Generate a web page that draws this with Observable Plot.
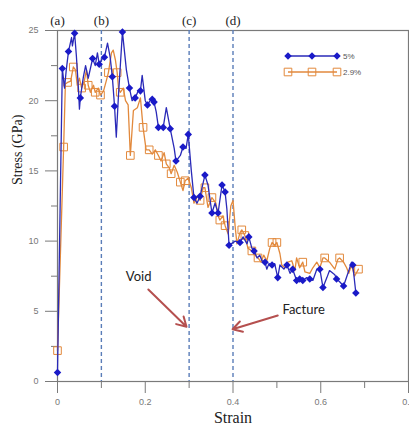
<!DOCTYPE html>
<html>
<head>
<meta charset="utf-8">
<script src="https://cdn.jsdelivr.net/npm/d3@7"></script>
<script src="https://cdn.jsdelivr.net/npm/@observablehq/plot@0.6"></script>
<style>
  html, body { margin: 0; padding: 0; background: #fff; overflow: hidden; }
  #wrap { position: relative; width: 409px; height: 425px; }
  #legend { position: absolute; left: 0; top: 0; pointer-events: none; }
</style>
</head>
<body>
<div id="wrap"></div>
<script>
// ---- Data: 5% series (strain, stress GPa, marker flag) ----
const strain5 = [0.000,0.011,0.016,0.020,0.025,0.032,0.034,0.039,0.043,0.048,0.050,0.052,0.059,0.064,0.070,0.080,0.086,0.091,0.095,0.102,0.107,0.114,0.120,0.125,0.130,0.134,0.139,0.148,0.157,0.164,0.170,0.177,0.184,0.189,0.193,0.200,0.205,0.211,0.216,0.220,0.225,0.230,0.236,0.241,0.248,0.257,0.266,0.270,0.280,0.286,0.293,0.298,0.305,0.311,0.318,0.325,0.336,0.343,0.352,0.359,0.366,0.375,0.382,0.386,0.391,0.405,0.416,0.423,0.432,0.436,0.443,0.448,0.455,0.461,0.466,0.473,0.477,0.482,0.489,0.495,0.502,0.507,0.516,0.523,0.530,0.536,0.545,0.552,0.559,0.568,0.575,0.582,0.591,0.598,0.605,0.614,0.620,0.632,0.636,0.643,0.652,0.664,0.670,0.673,0.680];
const stress5 = [0.64,22.3,20.9,22.2,23.5,24.5,23.9,24.8,23.2,20.7,19.4,20.2,21.7,22.5,21.6,23.0,22.5,23.4,22.6,23.0,23.1,24.1,23.1,21.7,19.6,17.4,20.4,24.9,22.2,20.9,20.0,20.2,20.7,20.7,21.8,20.0,19.7,20.0,20.1,19.9,19.2,18.1,18.1,18.1,19.5,18.0,16.6,15.7,16.1,16.7,16.6,17.6,15.0,13.1,12.7,13.2,14.7,14.0,12.0,12.7,12.0,14.0,13.5,12.3,9.7,10.0,9.9,10.3,9.8,10.3,9.5,9.3,8.8,9.0,8.6,8.5,8.0,8.4,8.3,8.4,7.4,8.3,8.0,8.3,7.7,8.0,7.2,7.3,7.2,7.4,7.3,7.2,8.0,8.0,6.7,7.4,7.9,7.6,7.3,7.1,6.8,7.9,8.5,8.3,6.3];
const mark5 = [1,1,0,0,1,0,0,1,0,0,0,1,0,0,0,1,0,0,1,0,1,0,0,1,1,0,0,1,0,1,0,1,0,1,0,0,1,0,1,1,0,1,0,1,0,1,0,1,0,1,0,1,0,1,0,1,1,0,1,0,1,1,1,0,1,0,1,0,0,1,0,1,0,0,0,1,0,0,1,0,1,0,0,1,0,1,1,1,1,0,1,0,0,1,1,0,0,0,1,0,1,0,0,1,1];

// ---- Data: 2.9% series ----
const strain29 = [0.000,0.014,0.018,0.023,0.030,0.036,0.041,0.045,0.050,0.055,0.061,0.066,0.070,0.075,0.082,0.086,0.093,0.098,0.105,0.111,0.116,0.123,0.127,0.132,0.136,0.139,0.143,0.150,0.155,0.161,0.166,0.173,0.182,0.189,0.195,0.202,0.209,0.216,0.223,0.230,0.236,0.243,0.248,0.255,0.259,0.266,0.273,0.280,0.286,0.291,0.298,0.305,0.311,0.318,0.325,0.332,0.336,0.343,0.352,0.361,0.366,0.370,0.377,0.382,0.389,0.395,0.400,0.405,0.409,0.416,0.420,0.427,0.434,0.443,0.450,0.457,0.464,0.470,0.477,0.484,0.489,0.495,0.500,0.507,0.511,0.518,0.525,0.534,0.541,0.545,0.552,0.559,0.564,0.575,0.582,0.591,0.598,0.605,0.609,0.620,0.632,0.639,0.643,0.652,0.659,0.664,0.670,0.677,0.686];
const stress29 = [2.2,16.7,21.2,21.3,21.4,22.4,22.2,21.1,21.6,20.9,21.4,22.2,21.1,20.6,21.1,20.6,20.9,20.4,20.7,21.4,22.0,23.4,23.6,22.9,22.0,20.9,20.6,20.9,20.0,19.7,16.1,19.3,19.5,20.2,18.1,16.5,16.5,16.2,16.5,16.1,15.7,16.3,15.5,15.2,14.8,15.4,14.9,14.2,13.6,14.3,14.5,13.8,12.7,13.2,12.9,13.8,13.8,12.4,13.1,12.7,11.8,11.5,11.8,11.1,10.5,12.5,12.9,11.0,9.8,10.6,10.8,10.4,9.5,9.3,9.0,8.8,8.5,9.0,8.6,9.5,9.9,9.7,9.9,9.1,8.3,8.1,8.5,8.6,7.9,8.8,8.1,8.5,7.8,7.7,8.1,8.5,8.1,8.8,8.8,8.5,8.0,8.7,8.8,8.5,8.1,7.7,8.3,7.5,8.0];
const mark29 = [1,1,0,1,0,1,0,0,0,1,0,0,1,0,0,1,0,1,0,0,1,0,0,0,1,0,1,0,0,0,1,0,0,0,1,0,1,0,0,1,0,0,1,0,1,0,0,1,0,1,0,0,0,0,1,0,1,0,1,0,0,1,0,1,0,0,0,0,0,0,1,1,0,1,0,1,0,0,0,0,1,0,1,0,0,0,0,0,0,0,0,1,0,0,0,0,0,0,1,0,0,0,1,0,0,0,0,0,1];

// ---- Reference lines and labels ----
const refStrain = [0.1, 0.3, 0.4];
const stageStrain = [0, 0.1, 0.3, 0.4];
const stageLabels = ["(a)", "(b)", "(c)", "(d)"];

// ---- Ticks ----
const xMajor = [0, 0.2, 0.4, 0.6, 0.8];
const xMajorLabels = ["0", "0.2", "0.4", "0.6", "0.8"];
const xMinor = [0.1, 0.3, 0.5, 0.7];
const yMajor = [0, 5, 10, 15, 20, 25];
const yMinor = [2.5, 7.5, 12.5, 17.5, 22.5];

// ---- Annotations ----
const noteLabels = ["Void", "Facture"];
const noteX = [0.185, 0.561];
const noteY = [7.45, 5.1];
const arrowX1 = [0.207, 0.502];
const arrowY1 = [6.55, 4.7];
const arrowX2 = [0.294, 0.399];
const arrowY2 = [3.9, 3.72];

// ---- Legend ----
const seriesNames = ["5%", "2.9%"];
const seriesColors = ["#1a1ac8", "#e2893c"];

const d5 = strain5.map((x, i) => ({x, y: stress5[i], m: mark5[i]}));
const d29 = strain29.map((x, i) => ({x, y: stress29[i], m: mark29[i]}));
const stages = stageStrain.map((x, i) => ({x, t: stageLabels[i]}));
const notes = noteLabels.map((t, i) => ({t, x: noteX[i], y: noteY[i]}));
const arrows = arrowX1.map((x1, i) => ({x1, y1: arrowY1[i], x2: arrowX2[i], y2: arrowY2[i]}));

const axisColor = "#7a7a7a";
const sans = "'Liberation Sans', Arial, sans-serif";
const serif = "'Liberation Serif', 'Times New Roman', serif";

const chart = Plot.plot({
  width: 409,
  height: 425,
  marginLeft: 57,
  marginRight: 1,
  marginTop: 30,
  marginBottom: 44,
  style: {background: "#fff", overflow: "visible"},
  x: {domain: [0, 0.8]},
  y: {domain: [0, 25]},
  marks: [
    Plot.frame({stroke: axisColor, strokeWidth: 1.2}),
    Plot.axisX({ticks: xMajor, tickSize: 12, tickPadding: 5, tickFormat: (d, i) => xMajorLabels[i], stroke: axisColor, fill: "#777", fontSize: 9, fontFamily: sans, label: null}),
    Plot.axisX({ticks: xMinor, tickSize: 7, tickFormat: () => "", stroke: axisColor, label: null}),
    Plot.axisY({ticks: yMajor, tickSize: 12, tickPadding: 7, stroke: axisColor, fill: "#777", fontSize: 9, fontFamily: sans, label: null}),
    Plot.axisY({ticks: yMinor, tickSize: 6, tickFormat: () => "", stroke: axisColor, label: null}),
    Plot.ruleX(refStrain, {stroke: "#5a7db8", strokeWidth: 1.4, strokeDasharray: "4,3"}),
    Plot.text(stages, {x: "x", text: "t", frameAnchor: "top", lineAnchor: "bottom", dy: -6, fontFamily: serif, fontSize: 13, fill: "#222"}),
    Plot.line(d29, {x: "x", y: "y", stroke: seriesColors[1], strokeWidth: 1.3}),
    Plot.dot(d29.filter(d => d.m), {x: "x", y: "y", symbol: "square", r: 4.3, stroke: seriesColors[1], strokeWidth: 1, fill: "none"}),
    Plot.line(d5, {x: "x", y: "y", stroke: "#2a2ab8", strokeWidth: 1.3}),
    Plot.dot(d5.filter(d => d.m), {x: "x", y: "y", symbol: "diamond2", r: 3.4, fill: seriesColors[0], stroke: "none"}),
    Plot.arrow(arrows, {x1: "x1", y1: "y1", x2: "x2", y2: "y2", stroke: "#b5504f", strokeWidth: 2, headLength: 8}),
    Plot.text(notes, {x: "x", y: "y", text: "t", fontFamily: "Lato, 'Open Sans', sans-serif", fontSize: 13, fill: "#222"}),
    Plot.text(["Stress (GPa)"], {frameAnchor: "left", rotate: -90, dx: -40, dy: -21, fontFamily: serif, fontSize: 14, fill: "#222"}),
    Plot.text(["Strain"], {frameAnchor: "bottom", lineAnchor: "bottom", dy: 41, fontFamily: serif, fontSize: 16, fill: "#222"})
  ]
});

const wrap = document.getElementById("wrap");
wrap.appendChild(chart);

// Legend overlay
const legendX = [288, 312, 337];
const leg = d3.select(wrap).append("svg").attr("id", "legend").attr("width", 409).attr("height", 425);
seriesNames.forEach((name, i) => {
  const y = 56 + i * 16;
  const g = leg.append("g");
  g.append("line").attr("x1", legendX[0]).attr("x2", legendX[2]).attr("y1", y).attr("y2", y)
    .attr("stroke", i === 0 ? "#2a2ab8" : seriesColors[1]).attr("stroke-width", 1.3);
  legendX.forEach(x => {
    if (i === 0) {
      g.append("path").attr("d", d3.symbol(d3.symbolDiamond2, Math.PI * 3.4 * 3.4)())
        .attr("transform", `translate(${x},${y})`).attr("fill", seriesColors[0]);
    } else {
      g.append("path").attr("d", d3.symbol(d3.symbolSquare, Math.PI * 4.3 * 4.3)())
        .attr("transform", `translate(${x},${y})`).attr("fill", "none").attr("stroke", seriesColors[1]);
    }
  });
  g.append("text").attr("x", legendX[2] + 6).attr("y", y + 3).text(name)
    .attr("font-family", sans).attr("font-size", 8).attr("fill", "#555");
});
</script>
</body>
</html>
